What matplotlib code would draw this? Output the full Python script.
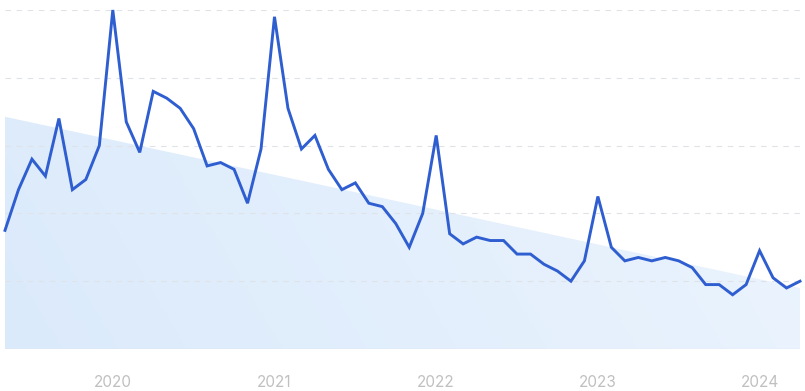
import matplotlib
matplotlib.use("Agg")
import matplotlib.pyplot as plt
import numpy as np
import pandas as pd
from matplotlib.patches import Polygon

months = pd.date_range("2019-05-01", "2024-04-01", freq="MS")
values = [35, 47, 56, 51, 68, 47, 50, 60,
          100, 67, 58, 76, 74, 71, 65, 54, 55, 53, 43, 59,
          98, 71, 59, 63, 53, 47, 49, 43, 42, 37, 30, 40,
          63, 34, 31, 33, 32, 32, 28, 28, 25, 23, 20, 26,
          45, 30, 26, 27, 26, 27, 26, 24, 19, 19, 16, 19,
          29, 21, 18, 20]
trend_start, trend_end = 68.5, 18.0
tick_years = ["2020", "2021", "2022", "2023", "2024"]
grid_levels = [20, 40, 60, 80, 100]

plt.rcParams['font.family'] = ['Inter', 'DejaVu Sans']

fig = plt.figure(figsize=(8.05, 3.91), dpi=100)
ax = fig.add_axes([5/805, 42/391, 795/805, 339/391])

x = np.arange(len(values))
ax.set_xlim(0, len(values) - 1)
ax.set_ylim(0, 100)

# gradient trend area
poly = Polygon([[0, 0], [0, trend_start], [len(values) - 1, trend_end], [len(values) - 1, 0]],
               closed=True, facecolor='none', edgecolor='none')
ax.add_patch(poly)
c1 = np.array([219, 234, 251]) / 255
c2 = np.array([237, 245, 254]) / 255
gx, gy = np.meshgrid(np.linspace(0, 1, 256), np.linspace(0, 1, 64))
t = np.clip(0.8 * gx + 0.2 * (1 - gy), 0, 1)
img = c1[None, None, :] * (1 - t[..., None]) + c2[None, None, :] * t[..., None]
im = ax.imshow(img, extent=[0, len(values) - 1, 0, 100], origin='upper', aspect='auto', zorder=1)
im.set_clip_path(poly)

for g in grid_levels:
    ax.axhline(g, color='#dfe3e8', lw=0.8, ls=(0, (5, 5)), zorder=2)
ax.axhline(0, color='#dde1e6', lw=0.9, zorder=2)

ax.plot(x, values, color='#2f5ed0', lw=2.1, zorder=3, clip_on=False, solid_joinstyle='miter')

tick_pos = [i for i, m in enumerate(months) if m.month == 1]
ax.set_xticks(tick_pos)
ax.set_xticklabels(tick_years, color='#c0c0c0', fontsize=11)
ax.tick_params(axis='x', length=0, pad=19)
ax.set_yticks([])
for s in ax.spines.values():
    s.set_visible(False)

fig.savefig("out.png", dpi=100)
